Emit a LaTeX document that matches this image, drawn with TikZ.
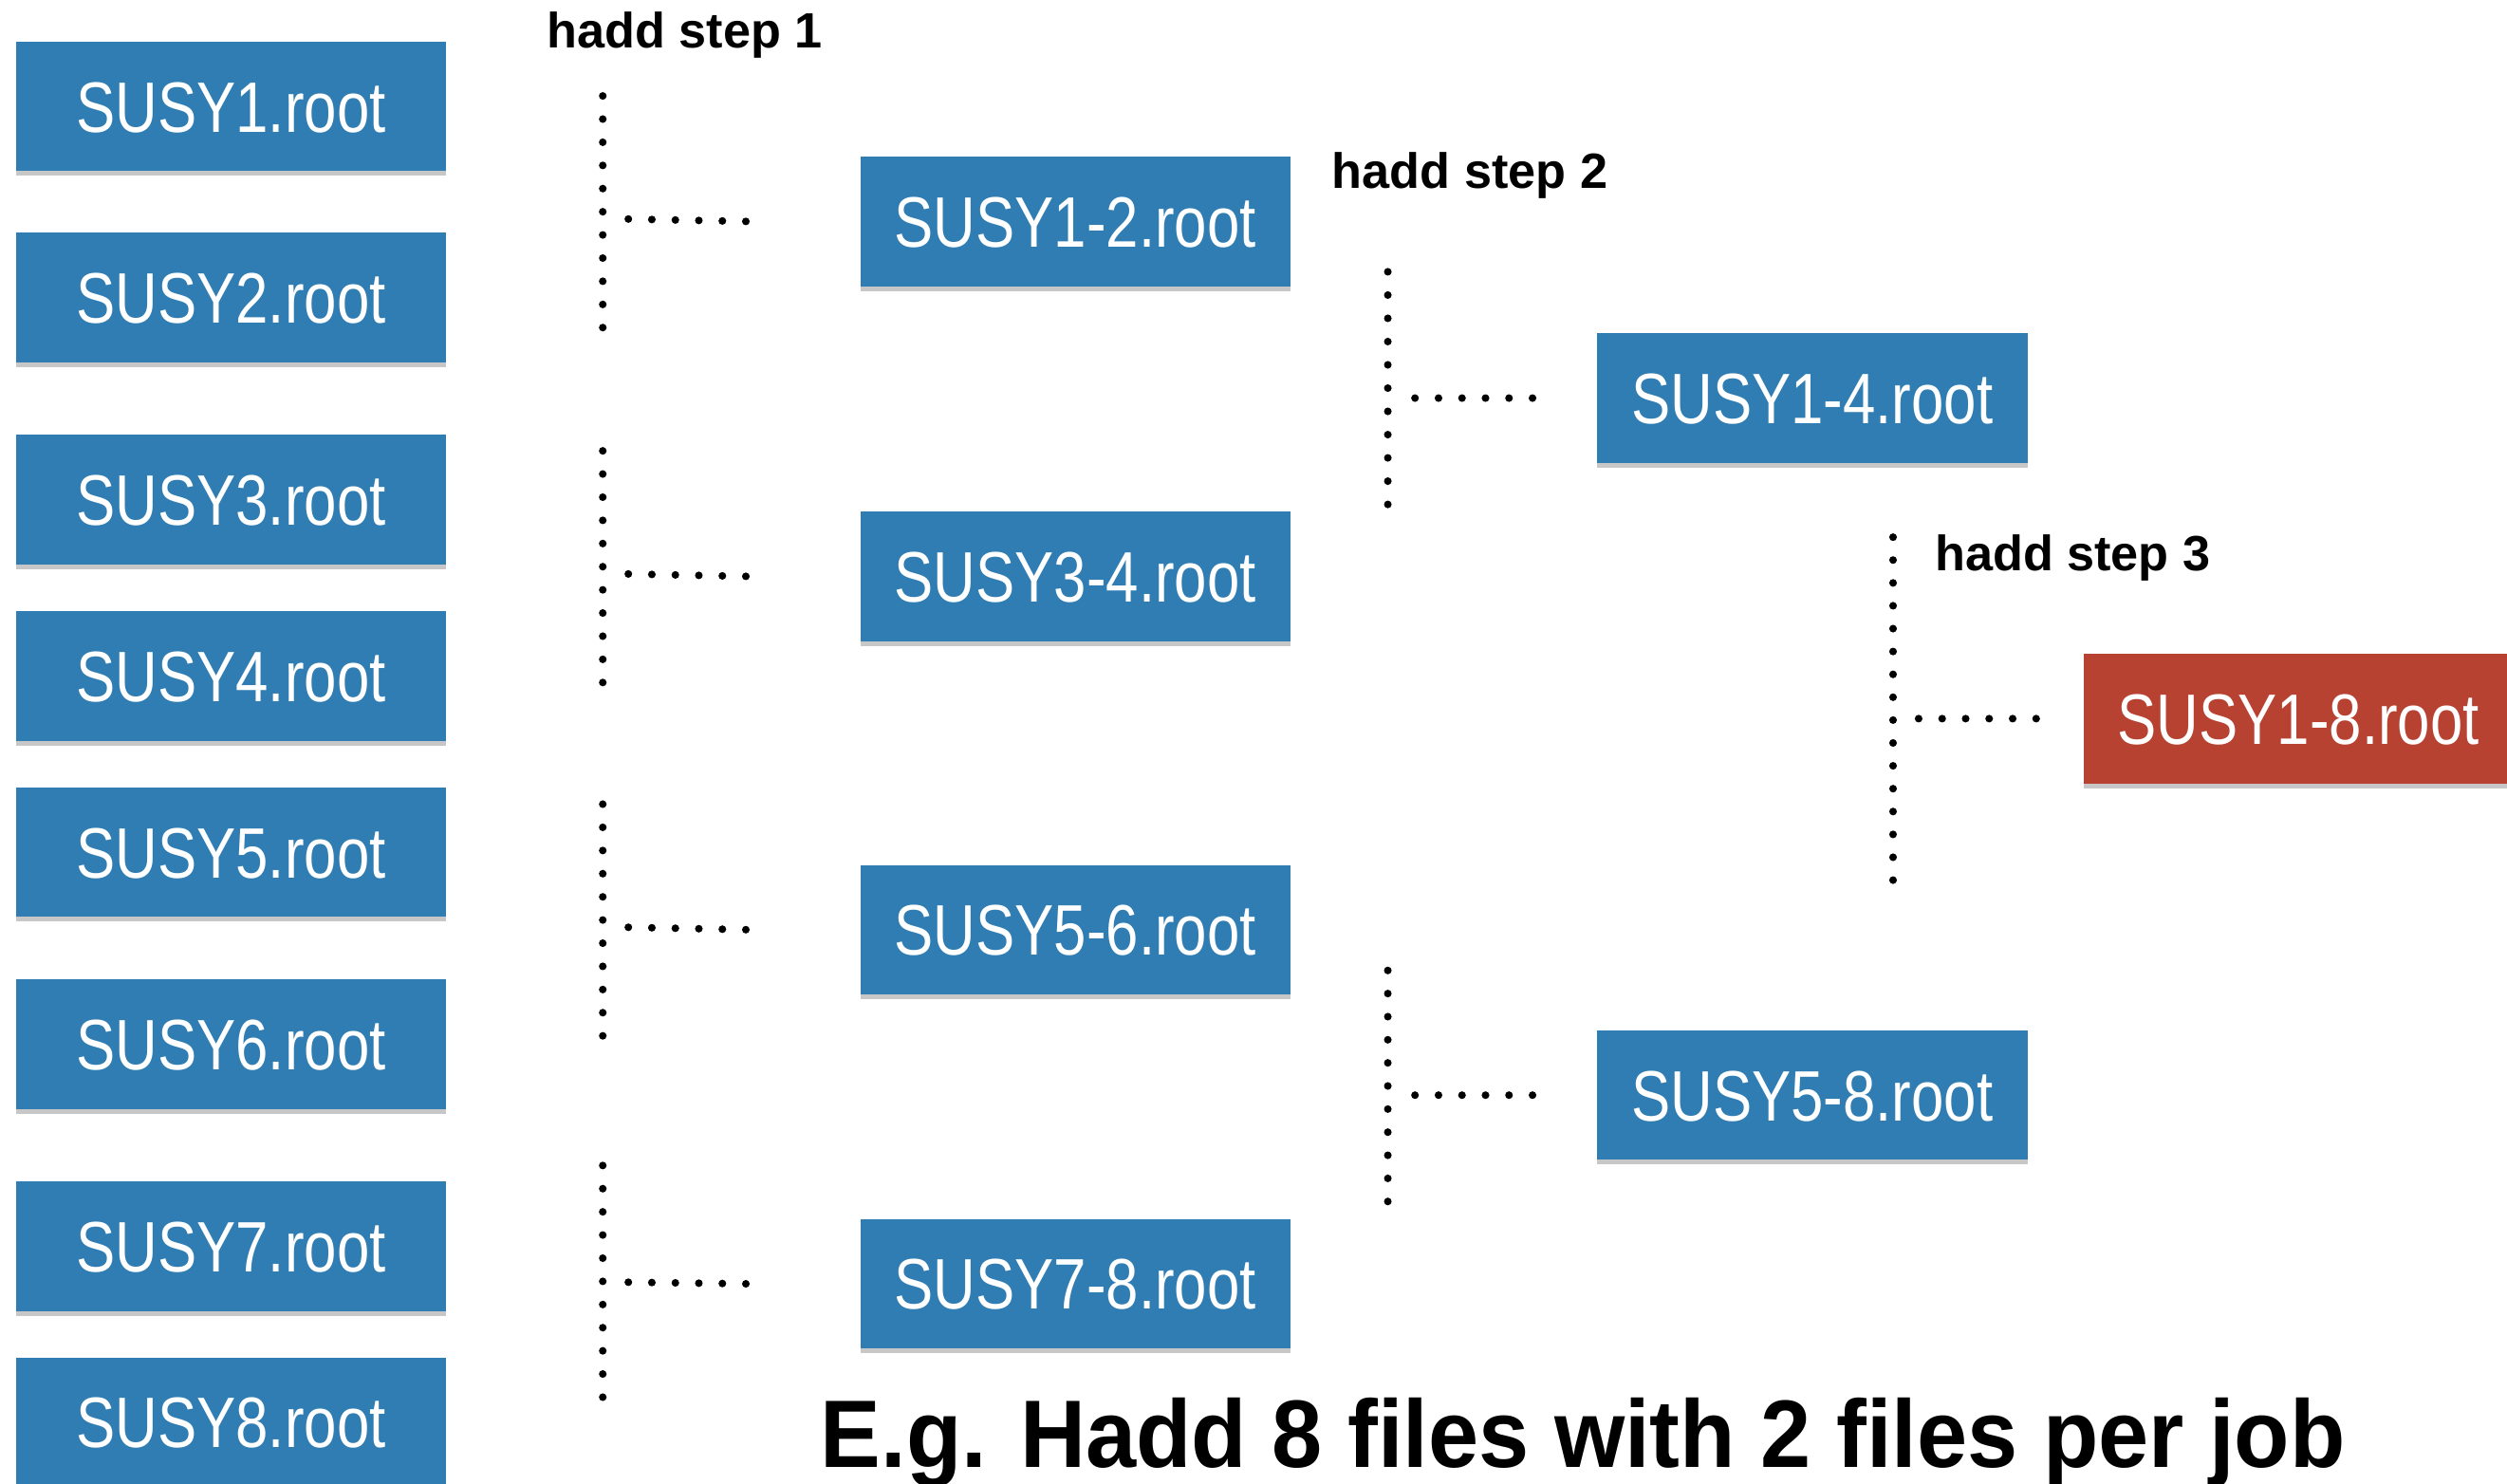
\documentclass[tikz,border=0pt]{standalone}
\usepackage{fontspec}
\setmainfont{Liberation Sans}
\newfontfamily\boxfont[FakeStretch=0.82]{Liberation Sans}
\newfontfamily\labfont{Liberation Sans}
\newfontfamily\titfont[FakeStretch=0.945]{Liberation Sans}
\usetikzlibrary{shadows}
\definecolor{boxblue}{RGB}{47,125,178}
\definecolor{boxred}{RGB}{183,66,50}
\tikzset{
  filebox/.style={fill=boxblue, minimum width=269pt, minimum height=81pt, inner sep=0pt,
    text=white, font=\boxfont\fontsize{44.7}{50}\selectfont, text height=32pt, text depth=0pt,
    drop shadow={shadow xshift=0pt, shadow yshift=-3pt, opacity=0.22, fill=black}},
  finalbox/.style={filebox, fill=boxred},
  dotrow/.style={line width=4.8pt, line cap=round, dash pattern=on 0pt off #1},
  steplabel/.style={anchor=base west, inner sep=0pt, font=\labfont\bfseries\fontsize{31}{36}\selectfont},
  titlelabel/.style={anchor=base, inner sep=0pt, font=\titfont\bfseries\fontsize{60}{70}\selectfont}
}
\begin{document}
\begin{tikzpicture}[x=1pt, y=-1pt]
\useasboundingbox (0,0) rectangle (1568,928);
\clip (0,0) rectangle (1568,928);
% column 1
\node[filebox] (c1) at (144.5,66.5) {SUSY1.root};
\node[filebox] (c2) at (144.5,186) {SUSY2.root};
\node[filebox] (c3) at (144.5,312.5) {SUSY3.root};
\node[filebox] (c4) at (144.5,423) {SUSY4.root};
\node[filebox] (c5) at (144.5,533) {SUSY5.root};
\node[filebox] (c6) at (144.5,653) {SUSY6.root};
\node[filebox] (c7) at (144.5,779.5) {SUSY7.root};
\node[filebox] (c8) at (144.5,889.5) {SUSY8.root};
% column 2
\node[filebox] (m12) at (672.5,138.5) {SUSY1-2.root};
\node[filebox] (m34) at (672.5,360.5) {SUSY3-4.root};
\node[filebox] (m56) at (672.5,581.5) {SUSY5-6.root};
\node[filebox] (m78) at (672.5,803) {SUSY7-8.root};
% column 3
\node[filebox] (q14) at (1133.5,249) {SUSY1-4.root};
\node[filebox] (q58) at (1133.5,685) {SUSY5-8.root};
% final
\node[finalbox] (f18) at (1437.5,449.5) {SUSY1-8.root};
% labels
\node[steplabel] (s1) at (342,30) {hadd step 1};
\node[steplabel] (s2) at (833,118) {hadd step 2};
\node[steplabel] (s3) at (1210,357) {hadd step 3};
\node[titlelabel] (title) at (990,918) {E.g. Hadd 8 files with 2 files per job};
% step 1 brackets
\coordinate (a1t) at (377,60);  \coordinate (a1b) at (377,205); \coordinate (a1h) at (393,137);
\coordinate (a2t) at (377,282); \coordinate (a2b) at (377,427); \coordinate (a2h) at (393,359);
\coordinate (a3t) at (377,503); \coordinate (a3b) at (377,648); \coordinate (a3h) at (393,580);
\coordinate (a4t) at (377,729); \coordinate (a4b) at (377,874); \coordinate (a4h) at (393,802);
\draw[dotrow=14.49pt] (a1t) -- (a1b);
\draw[dotrow=14.49pt] (a2t) -- (a2b);
\draw[dotrow=14.49pt] (a3t) -- (a3b);
\draw[dotrow=14.49pt] (a4t) -- (a4b);
\draw[dotrow=14.7pt] (a1h) -- ([xshift=-71pt]m12.west);
\draw[dotrow=14.7pt] (a2h) -- ([xshift=-71pt]m34.west);
\draw[dotrow=14.7pt] (a3h) -- ([xshift=-71pt]m56.west);
\draw[dotrow=14.7pt] (a4h) -- ([xshift=-71pt]m78.west);
% step 2 brackets
\coordinate (b1t) at (868,170); \coordinate (b1b) at (868,316); \coordinate (b1h) at (885,249);
\coordinate (b2t) at (868,607); \coordinate (b2b) at (868,752); \coordinate (b2h) at (885,685);
\draw[dotrow=14.55pt] (b1t) -- (b1b);
\draw[dotrow=14.45pt] (b2t) -- (b2b);
\draw[dotrow=14.7pt] (b1h) -- ([xshift=-40pt]q14.west);
\draw[dotrow=14.7pt] (b2h) -- ([xshift=-40pt]q58.west);
% step 3 bracket
\coordinate (d1t) at (1184,336); \coordinate (d1b) at (1184,551); \coordinate (d1h) at (1200,449.5);
\draw[dotrow=14.3pt] (d1t) -- (d1b);
\draw[dotrow=14.7pt] (d1h) -- ([xshift=-29pt]f18.west);
\end{tikzpicture}
\end{document}
